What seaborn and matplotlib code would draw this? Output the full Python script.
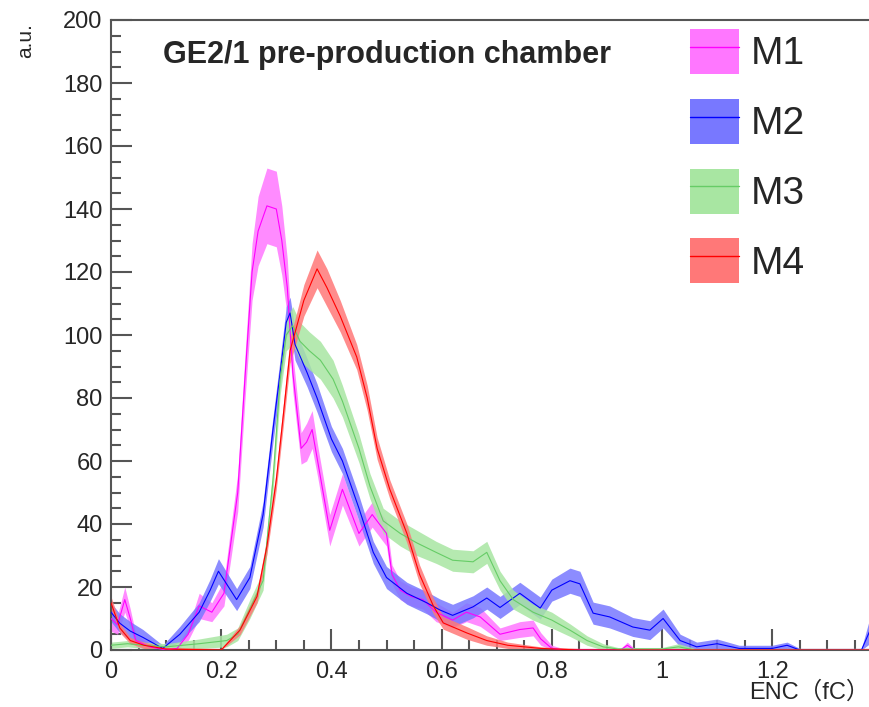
import numpy as np
import pandas as pd
import seaborn as sns
import matplotlib.pyplot as plt
from matplotlib.patches import Patch
from matplotlib.lines import Line2D
from matplotlib.legend_handler import HandlerTuple
from matplotlib.ticker import MultipleLocator, FuncFormatter

# ENC distributions of the four modules
m1_x = [0.000, 0.012, 0.025, 0.035, 0.045, 0.070, 0.100, 0.120, 0.140, 0.160, 0.183, 0.205,
        0.230, 0.243, 0.256, 0.267, 0.283, 0.300, 0.310, 0.320, 0.330, 0.345, 0.355, 0.365,
        0.375, 0.397, 0.420, 0.450, 0.474, 0.500, 0.510, 0.525, 0.545, 0.566, 0.590, 0.620,
        0.645, 0.670, 0.706, 0.742, 0.766, 0.780, 0.800, 0.820, 0.925, 0.937, 0.950, 1.377]
m1_y = [10, 8, 16, 10, 3, 1, 0, 0.5, 5, 14, 12, 18,
        50, 86, 120, 133, 141, 140, 130, 115, 88, 64, 66, 70,
        60, 38, 51, 37, 43, 37, 24, 19, 17, 16, 12, 9.5,
        12, 10.5, 5, 6.5, 7, 3.5, 0.5, 0, 0, 1.5, 0, 0]
m1_err = [4, 3, 4, 3, 2, 1, 0.5, 1, 2, 4, 3, 4,
          6, 7, 9, 11, 12, 12, 11, 9, 6, 5, 6, 6,
          5, 5, 5, 4, 4, 4, 3, 3, 3, 3, 3, 2.5,
          3, 3, 2, 2.5, 2.5, 2, 1, 0.5, 0.5, 1, 0.5, 0.5]

m2_x = [0.000, 0.016, 0.035, 0.058, 0.094, 0.125, 0.160, 0.180, 0.195, 0.228, 0.252, 0.276,
        0.294, 0.307, 0.318, 0.325, 0.334, 0.356, 0.374, 0.400, 0.420, 0.450, 0.476, 0.500,
        0.537, 0.573, 0.597, 0.620, 0.657, 0.682, 0.706, 0.742, 0.779, 0.800, 0.833, 0.851,
        0.875, 0.905, 0.947, 0.978, 1.002, 1.033, 1.063, 1.100, 1.140, 1.200, 1.227, 1.250,
        1.362, 1.377]
m2_y = [12, 8.5, 6, 4, 0.5, 5, 12, 19, 25, 16, 23, 43,
        70, 88, 104, 107, 97, 88, 80, 67, 60, 45, 31, 23,
        18, 15, 12.7, 11, 13.7, 16.5, 13.5, 18, 13.3, 19, 22, 21,
        11.7, 10.5, 7.3, 6.3, 10, 3, 1, 2, 0.5, 0.5, 1.5, 0,
        0, 6]
m2_err = [3, 3, 3, 2.5, 1, 2.5, 3, 3.5, 4, 3.5, 3.5, 4,
          4, 4.5, 5, 5, 5, 4.5, 4.5, 4, 4, 4, 3.5, 3.5,
          3.5, 3.5, 3.5, 3.5, 3.5, 3.5, 3.5, 3.5, 3.5, 3.5, 4, 4,
          3.5, 3.5, 3, 3, 3, 2, 1.5, 1.5, 1, 1, 1, 0.5,
          0.5, 4]

m3_x = [0.000, 0.030, 0.060, 0.100, 0.160, 0.210, 0.230, 0.252, 0.276, 0.294, 0.307, 0.318,
        0.330, 0.343, 0.360, 0.380, 0.403, 0.420, 0.450, 0.470, 0.494, 0.525, 0.555, 0.590,
        0.620, 0.657, 0.682, 0.706, 0.730, 0.766, 0.800, 0.833, 0.864, 0.893, 0.920, 1.000,
        1.030, 1.060, 1.377]
m3_y = [1.5, 2, 1.5, 1, 2, 3, 5, 13, 22, 54, 86, 100,
        103, 98, 95, 92, 86, 79, 64, 52, 41, 37, 34, 31,
        28.5, 28, 31, 22, 16, 12, 9.5, 6.3, 3, 1, 0.3, 0.3,
        1, 0, 0]
m3_err = [1, 1, 1, 1, 1.5, 2, 2, 3, 3, 4, 5, 5,
          6, 6, 6, 6, 6, 5, 4.5, 4, 4, 4, 4, 3.5,
          3.5, 3.5, 3.5, 3, 3, 2.5, 2.5, 2, 1.5, 1, 0.5, 0.5,
          1, 0.5, 0.5]

m4_x = [0.000, 0.016, 0.035, 0.060, 0.100, 0.200, 0.234, 0.265, 0.283, 0.300, 0.313, 0.325,
        0.350, 0.374, 0.392, 0.416, 0.446, 0.465, 0.483, 0.506, 0.537, 0.560, 0.585, 0.603,
        0.646, 0.682, 0.720, 0.780, 0.850, 1.377]
m4_y = [15, 7, 3, 1.5, 0.3, 0, 6.3, 17, 33, 54, 75, 95,
        111, 121, 115, 106, 93, 80, 64, 51, 37, 24, 14, 8.6,
        5.4, 3, 1.5, 0.5, 0, 0]
m4_err = [2, 1.5, 1, 1, 0.5, 0.5, 1.5, 2, 2.5, 3, 3.5, 4,
          5, 6, 6, 5, 4, 4, 3.5, 3, 3, 3, 2.5, 2,
          2, 1.5, 1, 0.5, 0.5, 0.5]

labels = ['M1', 'M2', 'M3', 'M4']
band_colors = ['#ff77ff', '#7878ff', '#a8e6a2', '#ff7878']
line_colors = ['#ff00ff', '#0000ff', '#66cc66', '#ff0000']

series = [(m1_x, m1_y, m1_err), (m2_x, m2_y, m2_err),
          (m3_x, m3_y, m3_err), (m4_x, m4_y, m4_err)]

sns.set_style('ticks')
plt.rcParams['font.family'] = ['Liberation Sans', 'Noto Sans CJK SC', 'DejaVu Sans']

fig = plt.figure(figsize=(8.7, 7.07), dpi=100)
ax = fig.add_axes([111 / 870, 57 / 707, 759 / 870, 630 / 707])

handles = []
for (xs, ys, es), lab, bc, lc in zip(series, labels, band_colors, line_colors):
    df = pd.DataFrame({'x': xs, 'y': ys, 'e': es})
    lo = np.clip(df['y'] - df['e'], 0, None)
    hi = df['y'] + df['e']
    ax.fill_between(df['x'], lo, hi, color=bc, alpha=0.85, lw=0, zorder=2)
    sns.lineplot(data=df, x='x', y='y', ax=ax, color=lc, lw=0.8, zorder=3,
                 legend=False, sort=False, estimator=None)
    handles.append((Patch(facecolor=bc, edgecolor='none'), Line2D([], [], color=lc, lw=1.0)))

ax.set_xlim(0, 759 / 551)
ax.set_ylim(0, 200)

ax.xaxis.set_major_locator(MultipleLocator(0.2))
ax.xaxis.set_minor_locator(MultipleLocator(0.05))
ax.yaxis.set_major_locator(MultipleLocator(20))
ax.yaxis.set_minor_locator(MultipleLocator(5))
ax.xaxis.set_major_formatter(FuncFormatter(lambda v, p: f'{v:g}'))

ax.tick_params(which='both', direction='in', color='#555555', width=1.5,
               top=False, right=False, labelsize=17)
ax.tick_params(which='major', length=15)
ax.tick_params(which='minor', length=7.5)
ax.tick_params(axis='x', pad=8)
ax.tick_params(axis='y', pad=6)

for side in ['left', 'bottom', 'top']:
    ax.spines[side].set_linewidth(1.5)
    ax.spines[side].set_color('#555555')
ax.spines['right'].set_visible(False)

ax.set_xlabel('ENC（fC）', fontsize=17, ha='right')
ax.xaxis.set_label_coords(1.0, -0.05)
ax.set_ylabel('a.u.', fontsize=15, ha='right')
ax.yaxis.set_label_coords(-0.100, 0.995)

ax.text(0.0685, 0.944, 'GE2/1 pre-production chamber', transform=ax.transAxes,
        fontsize=22, fontweight='bold', va='center', ha='left')

ax.legend(handles, labels, handler_map={tuple: HandlerTuple(ndivide=1, pad=0)},
          loc='upper left', bbox_to_anchor=(690 / 870, 1 - 29 / 707),
          bbox_transform=fig.transFigure, frameon=False, fontsize=28,
          handlelength=1.25, handleheight=1.4, labelspacing=0.64,
          handletextpad=0.3, borderpad=0, borderaxespad=0)

fig.savefig('out.png', dpi=100)
